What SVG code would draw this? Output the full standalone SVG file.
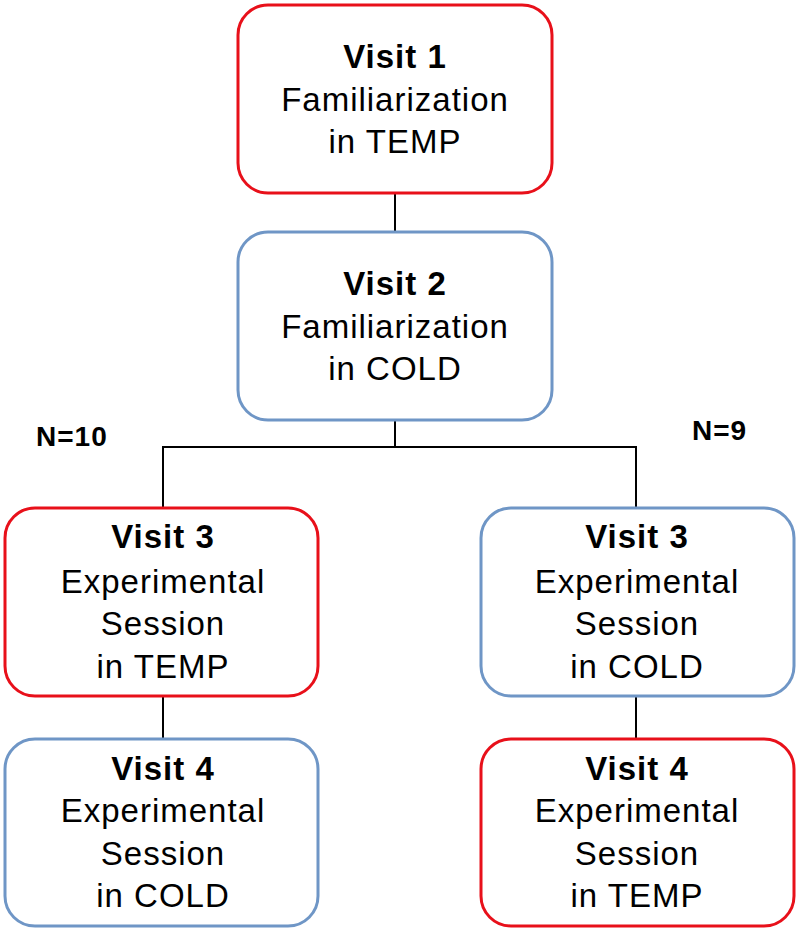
<svg xmlns="http://www.w3.org/2000/svg" width="800" height="933" viewBox="0 0 800 933">
<style>
.box{fill:#fff;stroke-width:3}
.red{stroke:#e8101a}
.blue{stroke:#6f96c6}
text{font-family:"Liberation Sans",Arial,sans-serif;font-size:33px;letter-spacing:1px;text-anchor:middle;fill:#000}
.b{font-weight:bold}
.n{font-weight:bold;font-size:28px;text-anchor:start}
.con{stroke:#000;stroke-width:2;fill:none}
</style>
<rect width="800" height="933" fill="#fff"/>
<g id="connectors">
<line class="con" x1="395" y1="193" x2="395" y2="232"/>
<polyline class="con" points="395,420 395,447"/>
<polyline class="con" points="163,508 163,447 636,447 636,508"/>
<line class="con" x1="163" y1="696" x2="163" y2="739"/>
<line class="con" x1="636" y1="696" x2="636" y2="739"/>
</g>
<g id="visit1">
<rect class="box red" x="238" y="5" width="314" height="188" rx="30"/>
<text x="395" y="68" class="b">Visit 1</text>
<text x="395" y="111">Familiarization</text>
<text x="395" y="153">in TEMP</text>
</g>
<g id="visit2">
<rect class="box blue" x="238" y="232" width="314" height="188" rx="30"/>
<text x="395" y="295" class="b">Visit 2</text>
<text x="395" y="338">Familiarization</text>
<text x="395" y="380">in COLD</text>
</g>
<g id="n10"><text x="36" y="446" class="n">N=10</text></g>
<g id="n9"><text x="692" y="440" class="n">N=9</text></g>
<g id="visit3-left">
<rect class="box red" x="5" y="508" width="313" height="188" rx="30"/>
<text x="163" y="548" class="b">Visit 3</text>
<text x="163" y="593">Experimental</text>
<text x="163" y="635">Session</text>
<text x="163" y="678">in TEMP</text>
</g>
<g id="visit3-right">
<rect class="box blue" x="481" y="508" width="313" height="188" rx="30"/>
<text x="637" y="548" class="b">Visit 3</text>
<text x="637" y="593">Experimental</text>
<text x="637" y="635">Session</text>
<text x="637" y="678">in COLD</text>
</g>
<g id="visit4-left">
<rect class="box blue" x="5" y="739" width="313" height="187" rx="30"/>
<text x="163" y="780" class="b">Visit 4</text>
<text x="163" y="822">Experimental</text>
<text x="163" y="865">Session</text>
<text x="163" y="907">in COLD</text>
</g>
<g id="visit4-right">
<rect class="box red" x="481" y="739" width="313" height="187" rx="30"/>
<text x="637" y="780" class="b">Visit 4</text>
<text x="637" y="822">Experimental</text>
<text x="637" y="865">Session</text>
<text x="637" y="907">in TEMP</text>
</g>
</svg>
